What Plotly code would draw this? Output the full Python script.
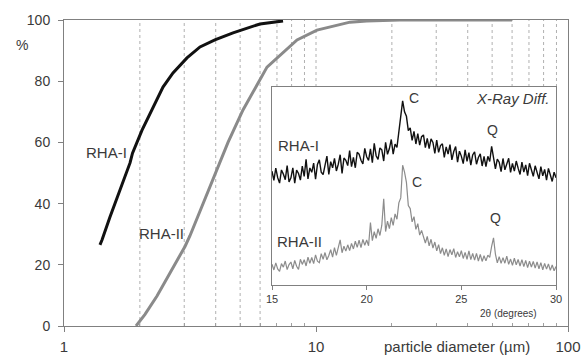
import plotly.graph_objects as go

# ---------------- data ----------------
# cumulative particle size distribution (particle diameter in um, cumulative %)
rha1_d = [1.389, 1.415, 1.522, 1.668, 1.828, 1.87, 2.040, 2.471, 2.707, 3.076, 3.465, 3.97, 4.685, 5.995, 7.40]
rha1_p = [26.5, 28.1, 35.6, 44.4, 53.3, 56.5, 64.0, 78.1, 82.7, 87.6, 91.2, 93.5, 95.8, 98.7, 99.7]

rha2_d = [1.931, 2.096, 2.339, 2.707, 3.021, 3.162, 3.465, 3.867, 4.476, 5.132, 6.391, 8.409, 10.09, 13.64, 15.9, 21.5, 60.0]
rha2_p = [0, 3.8, 9.8, 18.8, 26.0, 29.5, 37.5, 47.7, 60.0, 70.6, 84.6, 93.5, 96.7, 99.3, 99.7, 100, 100]

# X-ray diffractograms, 2theta from 15.0 to 30.0 in 0.1 degree steps (arbitrary intensity)
xrd_start = 15.0
xrd_step = 0.1
xrd_rha1 = [
    57.5, 52.8, 59.0, 54.2, 51.5, 58.1, 56.0, 53.2, 60.3, 52.0,
    54.1, 59.2, 51.4, 58.0, 56.3, 53.0, 60.1, 54.8, 63.5, 53.6,
    59.1, 56.9, 61.6, 53.4, 60.9, 63.2, 57.0, 55.8, 60.4, 65.1,
    55.9, 62.3, 59.2, 64.0, 57.6, 61.0, 65.8, 56.4, 64.1, 63.0,
    60.3, 67.9, 59.8, 64.5, 59.2, 67.0, 66.1, 63.0, 61.2, 69.0,
    64.8, 62.9, 68.7, 61.8, 71.5, 65.3, 63.4, 69.2, 68.3, 62.6,
    72.1, 66.0, 68.9, 73.5, 66.1, 71.2, 69.5, 77.8, 83.0, 93.0,
    87.5, 85.2, 78.0, 79.4, 73.0, 77.6, 71.2, 76.5, 70.6, 74.9,
    75.8, 69.4, 74.1, 68.9, 73.8, 72.0, 66.5, 73.2, 67.0, 70.4,
    71.3, 64.5, 69.8, 66.1, 70.9, 63.2, 67.4, 69.9, 62.0, 67.6,
    65.1, 61.3, 68.2, 62.4, 66.9, 60.5, 65.7, 67.3, 61.0, 64.4,
    66.2, 60.1, 64.9, 59.8, 65.0, 62.4, 70.0, 64.1, 58.7, 63.6,
    62.0, 57.3, 63.9, 58.2, 61.8, 64.0, 56.9, 61.4, 57.5, 62.6,
    59.0, 55.8, 62.1, 57.0, 60.7, 55.2, 61.5, 58.3, 54.9, 60.2,
    57.4, 53.6, 59.8, 55.1, 58.4, 53.0, 58.9, 55.6, 52.3, 57.0,
    54.2,
]
xrd_rha2 = [
    10.5, 7.6, 11.2, 8.1, 6.9, 10.8, 9.0, 12.1, 7.8, 10.3,
    11.6, 8.2, 12.4, 9.5, 7.9, 13.0, 10.4, 12.8, 9.6, 14.1,
    11.0, 13.9, 10.8, 15.2, 12.0, 11.3, 15.8, 13.0, 16.4, 12.7,
    14.9, 17.8, 14.1, 18.9, 15.0, 19.2, 22.8, 16.3, 19.6, 17.1,
    20.3, 17.4, 21.0, 18.2, 22.1, 19.0, 22.6, 18.9, 23.0, 20.1,
    22.7, 19.8, 31.5, 22.4, 26.9, 23.6, 28.4, 25.0, 30.2, 43.5,
    27.0, 32.3, 28.5, 34.0, 30.1, 35.9, 33.2, 41.5, 44.0, 60.5,
    57.0, 51.8, 40.1, 38.6, 31.9, 34.5, 28.1, 31.0, 25.2, 27.6,
    24.8, 21.2, 24.5, 19.8, 23.1, 18.6, 21.7, 17.2, 20.4, 15.9,
    18.8, 15.0, 18.2, 14.4, 17.9, 15.3, 18.4, 13.9, 16.8, 14.2,
    17.3, 13.4, 16.5, 13.0, 17.2, 12.8, 15.9, 12.6, 16.0, 12.1,
    15.4, 11.9, 14.8, 12.2, 15.1, 14.0, 19.5, 23.8, 15.6, 11.2,
    14.3, 10.9, 13.8, 11.0, 14.6, 10.4, 13.1, 9.9, 13.5, 10.2,
    12.9, 9.6, 12.8, 9.3, 12.4, 8.8, 12.0, 9.1, 11.9, 8.5,
    11.7, 8.2, 11.3, 7.7, 10.9, 8.0, 10.6, 7.4, 10.1, 7.2,
    9.4,
]

x_ticks = [1, 10, 100]
x_minor = [2, 3, 4, 5, 6, 7, 8, 9, 20, 30, 40, 50, 60, 70, 80, 90]
grid_vals = [2, 3, 4, 5, 6, 7, 8, 9, 10, 20, 30, 40, 50, 60, 70, 80, 90]
y_ticks = [0, 20, 40, 60, 80, 100]
xrd_ticks = [15, 20, 25, 30]

# ---------------- layout geometry ----------------
W, H = 588, 355
ML, MR, MT, MB = 64, 20, 20, 29
PW, PH = W - ML - MR, H - MT - MB


def px(x):
    return (x - ML) / PW


def py(y):
    return (H - MB - y) / PH


FONT = "Liberation Sans, Arial, sans-serif"
TXT = "#3a3a3a"
AX = "#808080"

inset_x = [px(272), px(556)]
inset_y = [py(285), py(87)]

fig = go.Figure()

fig.add_trace(go.Scatter(x=rha1_d, y=rha1_p, mode="lines",
                         line=dict(color="#111111", width=3), showlegend=False,
                         xaxis="x", yaxis="y"))
fig.add_trace(go.Scatter(x=rha2_d, y=rha2_p, mode="lines",
                         line=dict(color="#8a8a8a", width=3), showlegend=False,
                         xaxis="x", yaxis="y"))

fig.add_trace(go.Scatter(x0=xrd_start, dx=xrd_step, y=xrd_rha2, mode="lines",
                         line=dict(color="#8c8c8c", width=1.2), showlegend=False,
                         xaxis="x2", yaxis="y2"))
fig.add_trace(go.Scatter(x0=xrd_start, dx=xrd_step, y=xrd_rha1, mode="lines",
                         line=dict(color="#111111", width=1.4), showlegend=False,
                         xaxis="x2", yaxis="y2"))

shapes = []
inset_left_val = 10 ** ((272 - ML) / PW * 2)
for v in grid_vals:
    y0 = 0 if v < inset_left_val else inset_y[1]
    shapes.append(dict(type="line", xref="x", yref="paper",
                       x0=v, x1=v, y0=y0, y1=1,
                       line=dict(color="#b0b0b0", width=1, dash="dot"),
                       layer="below"))


def ann(text, x, y, size, xanchor="center"):
    return dict(text=text, x=px(x), y=py(y), xref="paper", yref="paper",
                xanchor=xanchor, yanchor="middle", showarrow=False,
                font=dict(size=size, color=TXT, family=FONT))


annotations = [
    ann("%", 22, 45, 14),
    ann("particle diameter (\u00b5m)", 457, 346, 15),
    ann("RHA-I", 106, 152, 15),
    ann("RHA-II", 161, 233, 15),
    ann("RHA-I", 298, 145, 15),
    ann("RHA-II", 299, 241, 15),
    ann("C", 414, 98, 14),
    ann("Q", 492, 130, 14),
    ann("C", 417, 182, 14),
    ann("Q", 495, 218, 14),
    ann("<i>X-Ray Diff.</i>", 552, 98, 15, xanchor="right"),
    ann("2\u03b8 (degrees)", 508, 313, 10),
]

fig.update_layout(
    width=W, height=H,
    margin=dict(l=ML, r=MR, t=MT, b=MB),
    paper_bgcolor="white", plot_bgcolor="white",
    font=dict(family=FONT, color=TXT),
    shapes=shapes,
    annotations=annotations,
    xaxis=dict(type="log", range=[0, 2], tickvals=x_ticks, ticktext=[str(v) for v in x_ticks],
               ticks="outside", ticklen=5, tickcolor=AX, showgrid=False, zeroline=False,
               showline=True, linecolor=AX, linewidth=1, mirror=True,
               ticklabelstandoff=2, automargin=False,
               tickfont=dict(size=15, color=TXT, family=FONT),
               minor=dict(tickvals=x_minor, ticks="inside", ticklen=3, tickcolor="#a0a0a0",
                          showgrid=False)),
    yaxis=dict(range=[0, 100], tickvals=y_ticks, ticks="outside", ticklen=5, tickcolor=AX,
               showgrid=False, zeroline=False, showline=True, linecolor=AX, linewidth=1,
               mirror=True, ticklabelstandoff=5, automargin=False,
               tickfont=dict(size=14, color=TXT, family=FONT)),
    xaxis2=dict(domain=inset_x, anchor="y2", range=[15, 30], tickvals=xrd_ticks,
                ticks="outside", ticklen=4, tickcolor=AX, showgrid=False, zeroline=False,
                showline=True, linecolor=AX, linewidth=1, mirror=True, automargin=False,
                tickfont=dict(size=11, color=TXT, family=FONT)),
    yaxis2=dict(domain=inset_y, anchor="x2", range=[0, 100], showticklabels=False,
                ticks="", showgrid=False, zeroline=False, showline=True, linecolor=AX,
                linewidth=1, mirror=True, automargin=False),
)

fig.write_html("out.html")
